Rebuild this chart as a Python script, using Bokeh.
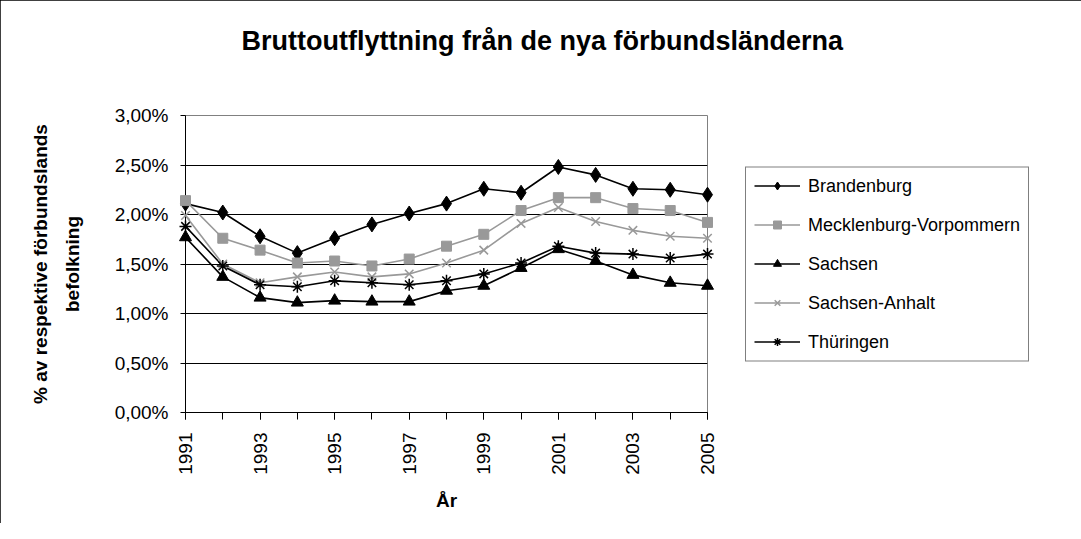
import math
from bokeh.plotting import figure
from bokeh.models import (Range1d, FixedTicker, CustomJSTickFormatter, Legend, LegendItem, Title)
from bokeh.embed import file_html
from bokeh.resources import INLINE

years = list(range(1991, 2006))
brandenburg = [2.11, 2.02, 1.78, 1.61, 1.76, 1.90, 2.01, 2.11, 2.26, 2.22, 2.48, 2.40, 2.26, 2.25, 2.20]
mecklenburg = [2.14, 1.76, 1.64, 1.51, 1.53, 1.48, 1.55, 1.68, 1.80, 2.04, 2.17, 2.17, 2.06, 2.04, 1.92]
sachsen = [1.77, 1.37, 1.16, 1.11, 1.13, 1.12, 1.12, 1.23, 1.28, 1.46, 1.65, 1.53, 1.39, 1.31, 1.28]
sachsen_anhalt = [1.99, 1.50, 1.31, 1.37, 1.42, 1.37, 1.40, 1.51, 1.64, 1.91, 2.07, 1.93, 1.84, 1.78, 1.76]
thuringen = [1.88, 1.48, 1.29, 1.27, 1.33, 1.31, 1.29, 1.33, 1.40, 1.51, 1.68, 1.61, 1.60, 1.56, 1.60]

series_names = ["Brandenburg", "Mecklenburg-Vorpommern", "Sachsen", "Sachsen-Anhalt", "Thüringen"]
y_ticks = [0.0, 0.5, 1.0, 1.5, 2.0, 2.5, 3.0]
x_major = [1991, 1993, 1995, 1997, 1999, 2001, 2003, 2005]

title_text = "Bruttoutflyttning från de nya förbundsländerna"
ylabel_1 = "% av respektive förbundslands"
ylabel_2 = "befolkning"
xlabel = "År"

FONT = "Liberation Sans"
BLACK = "#000000"
GRAY = "#999999"

p = figure(frame_width=522, frame_height=297, output_backend="svg", toolbar_location=None,
           x_range=Range1d(1991, 2005), y_range=Range1d(0, 3.0),
           min_border_left=185, min_border_right=0, min_border_top=115, min_border_bottom=111)
p.background_fill_color = "white"
p.border_fill_color = "white"
p.outline_line_color = "#808080"
p.outline_line_width = 1
p.styles = {"outline": "1px solid black", "outline-offset": "-1px"}

# real title (outer) and a blank spacer title between it and the frame
p.title.text = title_text
p.title.align = "left"
p.title.offset = 56
p.title.standoff = 2
p.title.text_font = FONT
p.title.text_font_size = "27px"
p.title.text_font_style = "bold"
p.title.text_color = BLACK
p.add_layout(Title(text=" ", text_font_size="1px", standoff=56), "above")

# y axis
p.yaxis.ticker = FixedTicker(ticks=y_ticks)
p.yaxis.formatter = CustomJSTickFormatter(code="return tick.toFixed(2).replace('.', ',') + '%';")
p.yaxis.major_label_text_font = FONT
p.yaxis.major_label_text_font_size = "19px"
p.yaxis.major_label_text_color = BLACK
p.yaxis.major_tick_out = 5
p.yaxis.major_tick_in = 0
p.yaxis.minor_tick_out = 0
p.yaxis.minor_tick_in = 0
p.yaxis.major_label_standoff = 12
p.yaxis.axis_line_color = BLACK
p.yaxis.major_tick_line_color = BLACK
p.yaxis.axis_label = ylabel_2
p.yaxis.axis_label_text_font = FONT
p.yaxis.axis_label_text_font_size = "19px"
p.yaxis.axis_label_text_font_style = "bold"
p.yaxis.axis_label_text_color = BLACK
p.yaxis.axis_label_standoff = 29

p.add_layout(Title(text=ylabel_1, align="center", text_font=FONT, text_font_size="19px",
                   text_font_style="bold", text_color=BLACK, standoff=16), "left")

# x axis
p.xaxis.ticker = FixedTicker(ticks=x_major, minor_ticks=years)
p.xaxis.major_label_orientation = math.pi / 2
p.xaxis.major_label_text_font = FONT
p.xaxis.major_label_text_font_size = "19px"
p.xaxis.major_label_text_color = BLACK
p.xaxis.major_tick_out = 7
p.xaxis.major_tick_in = 0
p.xaxis.minor_tick_out = 7
p.xaxis.minor_tick_in = 0
p.xaxis.minor_tick_line_color = BLACK
p.xaxis.major_label_standoff = 13
p.xaxis.axis_line_color = BLACK
p.xaxis.axis_label = xlabel
p.xaxis.axis_label_text_font = FONT
p.xaxis.axis_label_text_font_size = "19px"
p.xaxis.axis_label_text_font_style = "bold"
p.xaxis.axis_label_text_color = BLACK
p.xaxis.axis_label_standoff = 12

p.xgrid.visible = False
p.ygrid.ticker = FixedTicker(ticks=y_ticks[1:-1])
p.ygrid.grid_line_color = BLACK
p.ygrid.grid_line_width = 1

styles = [
    (brandenburg, BLACK, "diamond", 15),
    (mecklenburg, GRAY, "square", 10),
    (sachsen, BLACK, "triangle", 12),
    (sachsen_anhalt, GRAY, "x", 12),
    (thuringen, BLACK, "asterisk", 12),
]

items = []
for name, (vals, col, mk, sz) in zip(series_names, styles):
    lr = p.line(years, vals, line_color=col, line_width=1.6)
    sr = p.scatter(years, vals, marker=mk, size=sz, fill_color=col, line_color=col,
                   line_width=1.5 if mk in ("x", "asterisk") else 1)
    sr.level = "overlay"
    items.append(LegendItem(label=name, renderers=[lr, sr]))

legend = Legend(items=items, location="center_left", orientation="vertical",
                label_text_font=FONT, label_text_font_size="18px", label_text_color=BLACK,
                padding=8, spacing=18, label_height=20, glyph_height=20, glyph_width=46,
                label_standoff=8, border_line_color=BLACK, border_line_width=1,
                background_fill_color="white", background_fill_alpha=1.0, margin=38)
p.add_layout(legend, "right")

open("out.html", "w").write(file_html(p, INLINE))
